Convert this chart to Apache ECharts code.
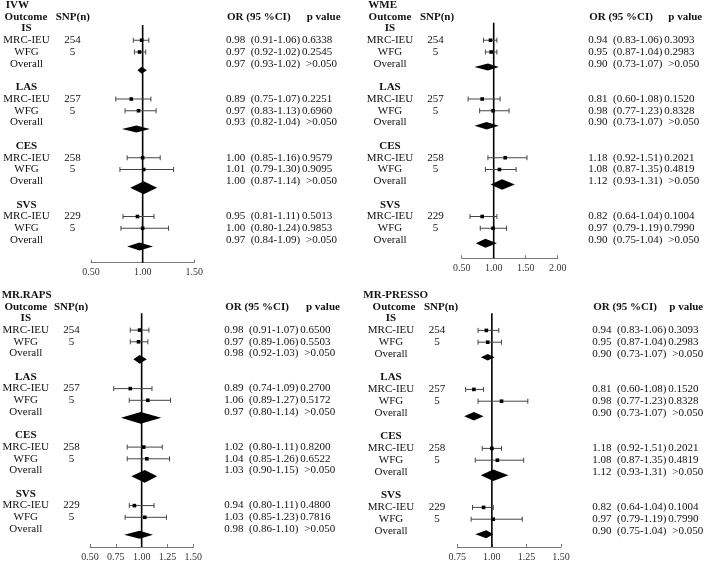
<!DOCTYPE html>
<html><head><meta charset="utf-8">
<script src="https://cdn.jsdelivr.net/npm/echarts@6/dist/echarts.min.js"></script>
<style>html,body{margin:0;padding:0;background:#fff}#c{width:709px;height:566px}</style>
</head><body><div id="c"></div>
<script>
// ---------------- data ----------------
const methods = ['IVW', 'WME', 'MR.RAPS', 'MR-PRESSO'];
const outcomes = ['IS', 'LAS', 'CES', 'SVS'];
const sources = ['MRC-IEU', 'WFG', 'Overall'];
const snpMRC = [254, 257, 258, 229];
const snpWFG = [5, 5, 5, 5];

// reported values (text), order per outcome: MRC-IEU, WFG, Overall
const ivwOR = [0.98, 0.97, 0.97, 0.89, 0.97, 0.93, 1.00, 1.01, 1.00, 0.95, 1.00, 0.97];
const ivwLo = [0.91, 0.92, 0.93, 0.75, 0.83, 0.82, 0.85, 0.79, 0.87, 0.81, 0.80, 0.84];
const ivwHi = [1.06, 1.02, 1.02, 1.07, 1.13, 1.04, 1.16, 1.30, 1.14, 1.11, 1.24, 1.09];
const ivwP = ['0.6338', '0.2545', '>0.050', '0.2251', '0.6960', '>0.050', '0.9579', '0.9095', '>0.050', '0.5013', '0.9853', '>0.050'];

const wmeOR = [0.94, 0.95, 0.90, 0.81, 0.98, 0.90, 1.18, 1.08, 1.12, 0.82, 0.97, 0.90];
const wmeLo = [0.83, 0.87, 0.73, 0.60, 0.77, 0.73, 0.92, 0.87, 0.93, 0.64, 0.79, 0.75];
const wmeHi = [1.06, 1.04, 1.07, 1.08, 1.23, 1.07, 1.51, 1.35, 1.31, 1.04, 1.19, 1.04];
const wmeP = ['0.3093', '0.2983', '>0.050', '0.1520', '0.8328', '>0.050', '0.2021', '0.4819', '>0.050', '0.1004', '0.7990', '>0.050'];

const rapsOR = [0.98, 0.97, 0.98, 0.89, 1.06, 0.97, 1.02, 1.04, 1.03, 0.94, 1.03, 0.98];
const rapsLo = [0.91, 0.89, 0.92, 0.74, 0.89, 0.80, 0.80, 0.85, 0.90, 0.80, 0.85, 0.86];
const rapsHi = [1.07, 1.06, 1.03, 1.09, 1.27, 1.14, 1.11, 1.26, 1.15, 1.11, 1.23, 1.10];
const rapsP = ['0.6500', '0.5503', '>0.050', '0.2700', '0.5172', '>0.050', '0.8200', '0.6522', '>0.050', '0.4800', '0.7816', '>0.050'];

const pressoOR = [0.94, 0.95, 0.90, 0.81, 0.98, 0.90, 1.18, 1.08, 1.12, 0.82, 0.97, 0.90];
const pressoLo = [0.83, 0.87, 0.73, 0.60, 0.77, 0.73, 0.92, 0.87, 0.93, 0.64, 0.79, 0.75];
const pressoHi = [1.06, 1.04, 1.07, 1.08, 1.23, 1.07, 1.51, 1.35, 1.31, 1.04, 1.19, 1.04];
const pressoP = ['0.3093', '0.2983', '>0.050', '0.1520', '0.8328', '>0.050', '0.2021', '0.4819', '>0.050', '0.1004', '0.7990', '>0.050'];

// values as drawn in the plots
const ivwPlotEst = [0.99, 0.97, 0.99, 0.89, 0.96, 0.94, 1.00, 1.01, 1.01, 0.95, 1.00, 0.97];
const ivwPlotLo  = [0.91, 0.92, 0.95, 0.74, 0.83, 0.80, 0.85, 0.78, 0.88, 0.81, 0.79, 0.85];
const ivwPlotHi  = [1.06, 1.03, 1.04, 1.08, 1.13, 1.07, 1.17, 1.30, 1.14, 1.11, 1.25, 1.10];

const wmePlotEst = [0.95, 0.96, 0.91, 0.82, 0.99, 0.89, 1.18, 1.09, 1.13, 0.82, 0.99, 0.87];
const wmePlotLo  = [0.84, 0.87, 0.70, 0.60, 0.78, 0.70, 0.91, 0.87, 0.95, 0.63, 0.79, 0.72];
const wmePlotHi  = [1.05, 1.05, 1.08, 1.10, 1.24, 1.08, 1.52, 1.35, 1.33, 1.05, 1.20, 1.05];

const rapsPlotEst = [0.98, 0.97, 0.98, 0.89, 1.06, 0.99, 1.02, 1.05, 1.03, 0.93, 1.03, 0.98];
const rapsPlotLo  = [0.89, 0.89, 0.92, 0.73, 0.88, 0.80, 0.86, 0.86, 0.90, 0.88, 0.84, 0.83];
const rapsPlotHi  = [1.07, 1.06, 1.05, 1.10, 1.28, 1.19, 1.20, 1.27, 1.15, 1.12, 1.24, 1.11];

const pressoPlotEst = [0.96, 0.97, 0.97, 0.87, 1.07, 0.87, 1.00, 1.04, 1.01, 0.94, 1.01, 0.96];
const pressoPlotLo  = [0.90, 0.90, 0.92, 0.81, 0.90, 0.80, 0.93, 0.88, 0.92, 0.86, 0.85, 0.88];
const pressoPlotHi  = [1.05, 1.07, 1.02, 0.94, 1.26, 0.94, 1.07, 1.23, 1.12, 1.01, 1.22, 1.01];

const axisMin = [0.5, 0.5, 0.5, 0.75];
const axisMax = [1.5, 2.0, 1.5, 1.5];
const axisStep = [0.5, 0.5, 0.25, 0.25];

// ---------------- layout / style ----------------
const FONT = '"Liberation Serif","Times New Roman",serif';
const FS = 11;
const NFS = 11;
const layouts = [
  { left: 91, width: 103.3, top: 25, bottom: 262.7, y0: 5, dy: 11.75, titleX: 5.7, labX: 26.5, snpX: 72.5, headOutX: 26, headSnpX: 72.8, orX: 226, pHeadX: 306.7, diaOff: 0.55, diaH: [3.5, 3.5, 6.5, 4] },
  { left: 461.7, width: 96, top: 22.7, bottom: 258.3, y0: 5, dy: 11.75, titleX: 368.3, labX: 390, snpX: 435.5, headOutX: 390, headSnpX: 437, orX: 588.3, pHeadX: 668.3, diaOff: 0.28, diaH: [3.5, 3.8, 5.3, 4.5] },
  { left: 90, width: 103.3, top: 313.3, bottom: 547, y0: 295, dy: 11.7, titleX: 1.7, labX: 25.8, snpX: 71.5, headOutX: 25.8, headSnpX: 71, orX: 224.3, pHeadX: 306, diaOff: 0.5, diaH: [4.3, 5.8, 6.3, 4] },
  { left: 457.3, width: 103.7, top: 313.3, bottom: 547, y0: 295, dy: 11.8, titleX: 363.3, labX: 391, snpX: 437, headOutX: 394, headSnpX: 441, orX: 592.3, pHeadX: 669.3, diaOff: 0.28, diaH: [3.3, 4.2, 5.7, 4] }
];
const CI_DX = 24.7, P_DX = 76, PGT_DX = 80;

const textSets = [
  [ivwOR, ivwLo, ivwHi, ivwP],
  [wmeOR, wmeLo, wmeHi, wmeP],
  [rapsOR, rapsLo, rapsHi, rapsP],
  [pressoOR, pressoLo, pressoHi, pressoP]
];
const plotSets = [
  [ivwPlotEst, ivwPlotLo, ivwPlotHi],
  [wmePlotEst, wmePlotLo, wmePlotHi],
  [rapsPlotEst, rapsPlotLo, rapsPlotHi],
  [pressoPlotEst, pressoPlotLo, pressoPlotHi]
];

function buildRows() {
  const rows = [{ kind: 'title', r: 0 }, { kind: 'header', r: 1 }];
  outcomes.forEach((o, k) => {
    const b = 2 + 5 * k;
    rows.push({ kind: 'outcome', r: b, k });
    rows.push({ kind: 'study', r: b + 1, k, s: 0, idx: 3 * k });
    rows.push({ kind: 'study', r: b + 2, k, s: 1, idx: 3 * k + 1 });
    rows.push({ kind: 'overall', r: b + 3, k, s: 2, idx: 3 * k + 2 });
  });
  return rows;
}

const chart = echarts.init(document.getElementById('c'), null, { renderer: 'canvas' });
const grids = [], xAxes = [], yAxes = [], series = [];

methods.forEach((m, p) => {
  const L = layouts[p];
  const yMin = (L.top - L.y0) / L.dy, yMax = (L.bottom - L.y0) / L.dy;
  grids.push({ left: L.left, top: L.top, width: L.width, height: L.bottom - L.top, containLabel: false });
  xAxes.push({
    gridIndex: p, type: 'value', min: axisMin[p], max: axisMax[p], interval: axisStep[p],
    axisLine: { show: true, onZero: false, lineStyle: { color: '#777', width: 1 } },
    axisTick: { show: true, inside: true, length: 3, lineStyle: { color: '#777' } },
    splitLine: { show: false },
    axisLabel: { formatter: v => v.toFixed(2), fontFamily: FONT, fontSize: 10, color: '#333', margin: 5 }
  });
  yAxes.push({ gridIndex: p, type: 'value', inverse: true, min: yMin, max: yMax, show: false });

  // reference line at OR = 1
  series.push({
    type: 'line', xAxisIndex: p, yAxisIndex: p, data: [[1, yMin], [1, yMax]],
    symbol: 'none', lineStyle: { color: '#000', width: 1.6 }, silent: true, z: 1
  });

  const rows = buildRows();
  const [tOR, tLo, tHi, tP] = textSets[p];
  const [pE, pL, pH] = plotSets[p];
  const txt = (text, x, y, bold, align, size) => ({
    type: 'text', x, y,
    style: { text, fill: '#111', font: (bold ? 'bold ' : '') + (size || FS) + 'px ' + FONT, align: align || 'center', verticalAlign: 'middle' }
  });

  series.push({
    type: 'custom', xAxisIndex: p, yAxisIndex: p, clip: false, z: 3,
    data: rows.map(r => [1, r.r]),
    encode: { x: 0, y: 1 },
    renderItem: (params, api) => {
      const row = rows[params.dataIndex];
      const y = api.coord([1, row.r])[1];
      const ch = [];
      if (row.kind === 'title') {
        ch.push(txt(m, L.titleX, y, true, 'left'));
      } else if (row.kind === 'header') {
        ch.push(txt('Outcome', L.headOutX, y, true));
        ch.push(txt('SNP(n)', L.headSnpX, y, true));
        ch.push(txt('OR (95 %CI)', L.orX + 1, y, true, 'left'));
        ch.push(txt('p value', L.pHeadX, y, true, 'left'));
      } else if (row.kind === 'outcome') {
        ch.push(txt(outcomes[row.k], L.labX, y, true));
      } else {
        const i = row.idx;
        ch.push(txt(sources[row.s], L.labX, y, false));
        if (row.kind === 'study') {
          ch.push(txt(String(row.s === 0 ? snpMRC[row.k] : snpWFG[row.k]), L.snpX, y, false));
        }
        ch.push(txt(tOR[i].toFixed(2), L.orX, y, false, 'left', NFS));
        ch.push(txt('(' + tLo[i].toFixed(2) + '-' + tHi[i].toFixed(2) + ')', L.orX + CI_DX, y, false, 'left', NFS));
        const pStr = tP[i];
        ch.push(txt(pStr, L.orX + (pStr.charAt(0) === '>' ? PGT_DX : P_DX), y, false, 'left', NFS));
        const xe = api.coord([pE[i], row.r])[0];
        const xl = api.coord([pL[i], row.r])[0];
        const xh = api.coord([pH[i], row.r])[0];
        if (row.kind === 'study') {
          const st = { stroke: '#444', lineWidth: 1 };
          ch.push({ type: 'line', shape: { x1: xl, y1: y, x2: xh, y2: y }, style: st });
          ch.push({ type: 'line', shape: { x1: xl, y1: y - 2.5, x2: xl, y2: y + 2.5 }, style: st });
          ch.push({ type: 'line', shape: { x1: xh, y1: y - 2.5, x2: xh, y2: y + 2.5 }, style: st });
          ch.push({ type: 'rect', shape: { x: xe - 1.8, y: y - 1.8, width: 3.6, height: 3.6 }, style: { fill: '#000' } });
        } else {
          const yd = api.coord([1, row.r + L.diaOff])[1];
          const h = L.diaH[row.k];
          ch.push({ type: 'polygon', shape: { points: [[xl, yd], [xe, yd - h], [xh, yd], [xe, yd + h]] }, style: { fill: '#000' } });
        }
      }
      return { type: 'group', children: ch };
    }
  });
});

chart.setOption({
  animation: false,
  backgroundColor: '#fff',
  grid: grids, xAxis: xAxes, yAxis: yAxes, series
});
</script>
</body></html>
